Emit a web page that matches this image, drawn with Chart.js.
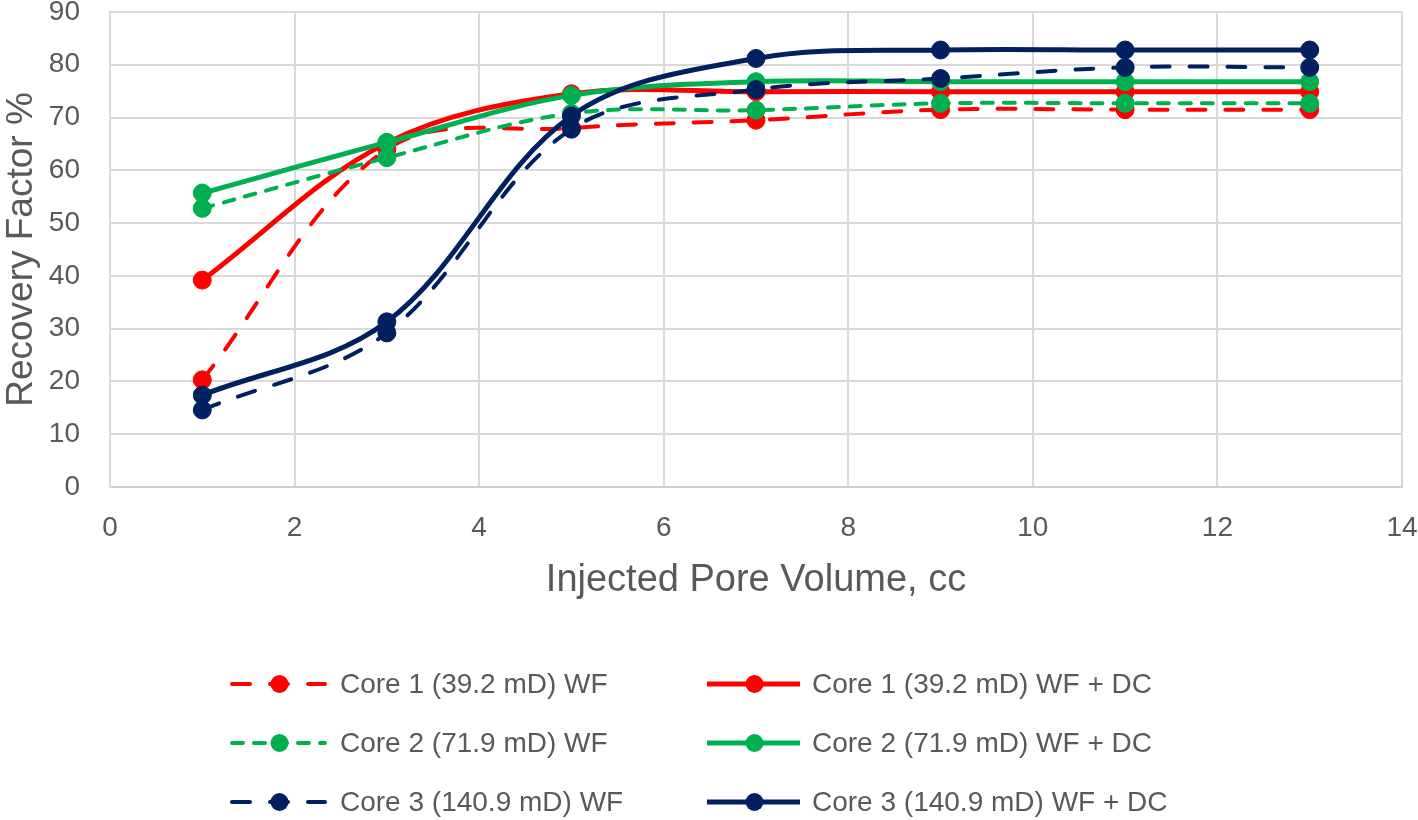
<!DOCTYPE html>
<html>
<head>
<meta charset="utf-8">
<script src="https://cdn.jsdelivr.net/npm/chart.js@4"></script>
<style>
  body { margin: 0; background: #fff; }
  canvas { display: block; }
</style>
</head>
<body>
<canvas id="chart" width="1418" height="820"></canvas>
<script>
// injected pore volume (cc)
const xValues = [1, 3, 5, 7, 9, 11, 13];

// recovery factor %
const core1WF = [20.3, 64.0, 68.0, 69.5, 71.5, 71.5, 71.5];
const core1DC = [39.2, 65.2, 74.5, 74.9, 74.9, 74.9, 74.9];
const core2WF = [52.8, 62.4, 70.8, 71.4, 72.7, 72.7, 72.7];
const core2DC = [55.7, 65.3, 74.2, 76.8, 76.8, 76.8, 76.8];
const core3WF = [14.6, 29.2, 67.8, 75.3, 77.4, 79.5, 79.5];
const core3DC = [17.4, 31.3, 70.3, 81.2, 82.8, 82.8, 82.8];

const seriesNames = [
  "Core 1 (39.2 mD) WF", "Core 1 (39.2 mD) WF + DC",
  "Core 2 (71.9 mD) WF", "Core 2 (71.9 mD) WF + DC",
  "Core 3 (140.9 mD) WF", "Core 3 (140.9 mD) WF + DC"
];

const RED = "#ff0000", GREEN = "#00b050", NAVY = "#002060";
const textColor = "#595959";
const fontFamily = "'Liberation Sans', Arial, sans-serif";

function pts(ys) {
  return xValues.map((x, i) => ({ x: x, y: ys[i] }));
}

function series(label, ys, color, dash, width, idx) {
  return {
    label: label,
    data: pts(ys),
    borderColor: color,
    backgroundColor: color,
    borderWidth: width,
    borderDash: dash,
    borderCapStyle: dash.length ? "round" : "butt",
    pointRadius: 9,
    pointHoverRadius: 9,
    pointBackgroundColor: color,
    pointBorderColor: color,
    pointBorderWidth: 1,
    tension: 0.35,
    order: 5 - idx
  };
}

const datasets = [
  series(seriesNames[0], core1WF, RED, [18, 20], 4, 0),
  series(seriesNames[1], core1DC, RED, [], 5, 1),
  series(seriesNames[2], core2WF, GREEN, [11, 11], 4, 2),
  series(seriesNames[3], core2DC, GREEN, [], 5, 3),
  series(seriesNames[4], core3WF, NAVY, [18, 20], 4, 4),
  series(seriesNames[5], core3DC, NAVY, [], 5, 5)
];

// legend laid out in two columns under the plot, like the original
const legendPlugin = {
  id: "twoColLegend",
  afterDraw(chart) {
    const ctx = chart.ctx;
    const rows = [684, 743, 802];
    const cols = [{ x0: 230, x1: 325, tx: 340 }, { x0: 705, x1: 800, tx: 812 }];
    chart.data.datasets.forEach((ds, i) => {
      const c = cols[i % 2];
      const y = rows[Math.floor(i / 2)];
      ctx.save();
      ctx.strokeStyle = ds.borderColor;
      ctx.lineWidth = ds.borderWidth;
      ctx.lineCap = ds.borderCapStyle;
      ctx.setLineDash(ds.borderDash);
      ctx.beginPath();
      ctx.moveTo(c.x0 + 2, y);
      ctx.lineTo(c.x1, y);
      ctx.stroke();
      ctx.setLineDash([]);
      ctx.fillStyle = ds.borderColor;
      ctx.beginPath();
      ctx.arc((c.x0 + c.x1) / 2 + 2, y, 9, 0, Math.PI * 2);
      ctx.fill();
      ctx.fillStyle = textColor;
      ctx.font = "28px " + fontFamily;
      ctx.textBaseline = "middle";
      ctx.textAlign = "left";
      ctx.fillText(ds.label, c.tx, y + 1);
      ctx.restore();
    });
  }
};

new Chart(document.getElementById("chart"), {
  type: "line",
  data: { datasets: datasets },
  options: {
    responsive: false,
    animation: false,
    events: [],
    layout: { padding: { left: 0, right: 0, top: 0, bottom: 200 } },
    plugins: {
      legend: { display: false },
      tooltip: { enabled: false }
    },
    scales: {
      x: {
        type: "linear",
        min: 0,
        max: 14,
        afterFit: s => {
          s.height = 133;
          s.paddingLeft = 0;
          s.paddingRight = 16;
        },
        ticks: {
          stepSize: 2,
          padding: 24,
          color: textColor,
          font: { family: fontFamily, size: 28 }
        },
        grid: { color: "#d9d9d9", lineWidth: 2, drawTicks: false },
        border: { color: "#d0d0d0", width: 2 },
        title: {
          display: true,
          text: "Injected Pore Volume, cc",
          color: textColor,
          font: { family: fontFamily, size: 38 },
          padding: { top: 0, bottom: 17 }
        }
      },
      y: {
        min: 0,
        max: 90,
        afterFit: s => {
          s.width = 110;
          s.paddingTop = 12;
          s.paddingBottom = 0;
        },
        ticks: {
          stepSize: 10,
          padding: 30,
          color: textColor,
          font: { family: fontFamily, size: 28 }
        },
        grid: { color: "#d9d9d9", lineWidth: 2, drawTicks: false },
        border: { color: "#d9d9d9", width: 2 },
        title: {
          display: true,
          text: "Recovery Factor %",
          color: textColor,
          font: { family: fontFamily, size: 37 },
          padding: { top: 0, bottom: 0 }
        }
      }
    }
  },
  plugins: [legendPlugin]
});
</script>
</body>
</html>
